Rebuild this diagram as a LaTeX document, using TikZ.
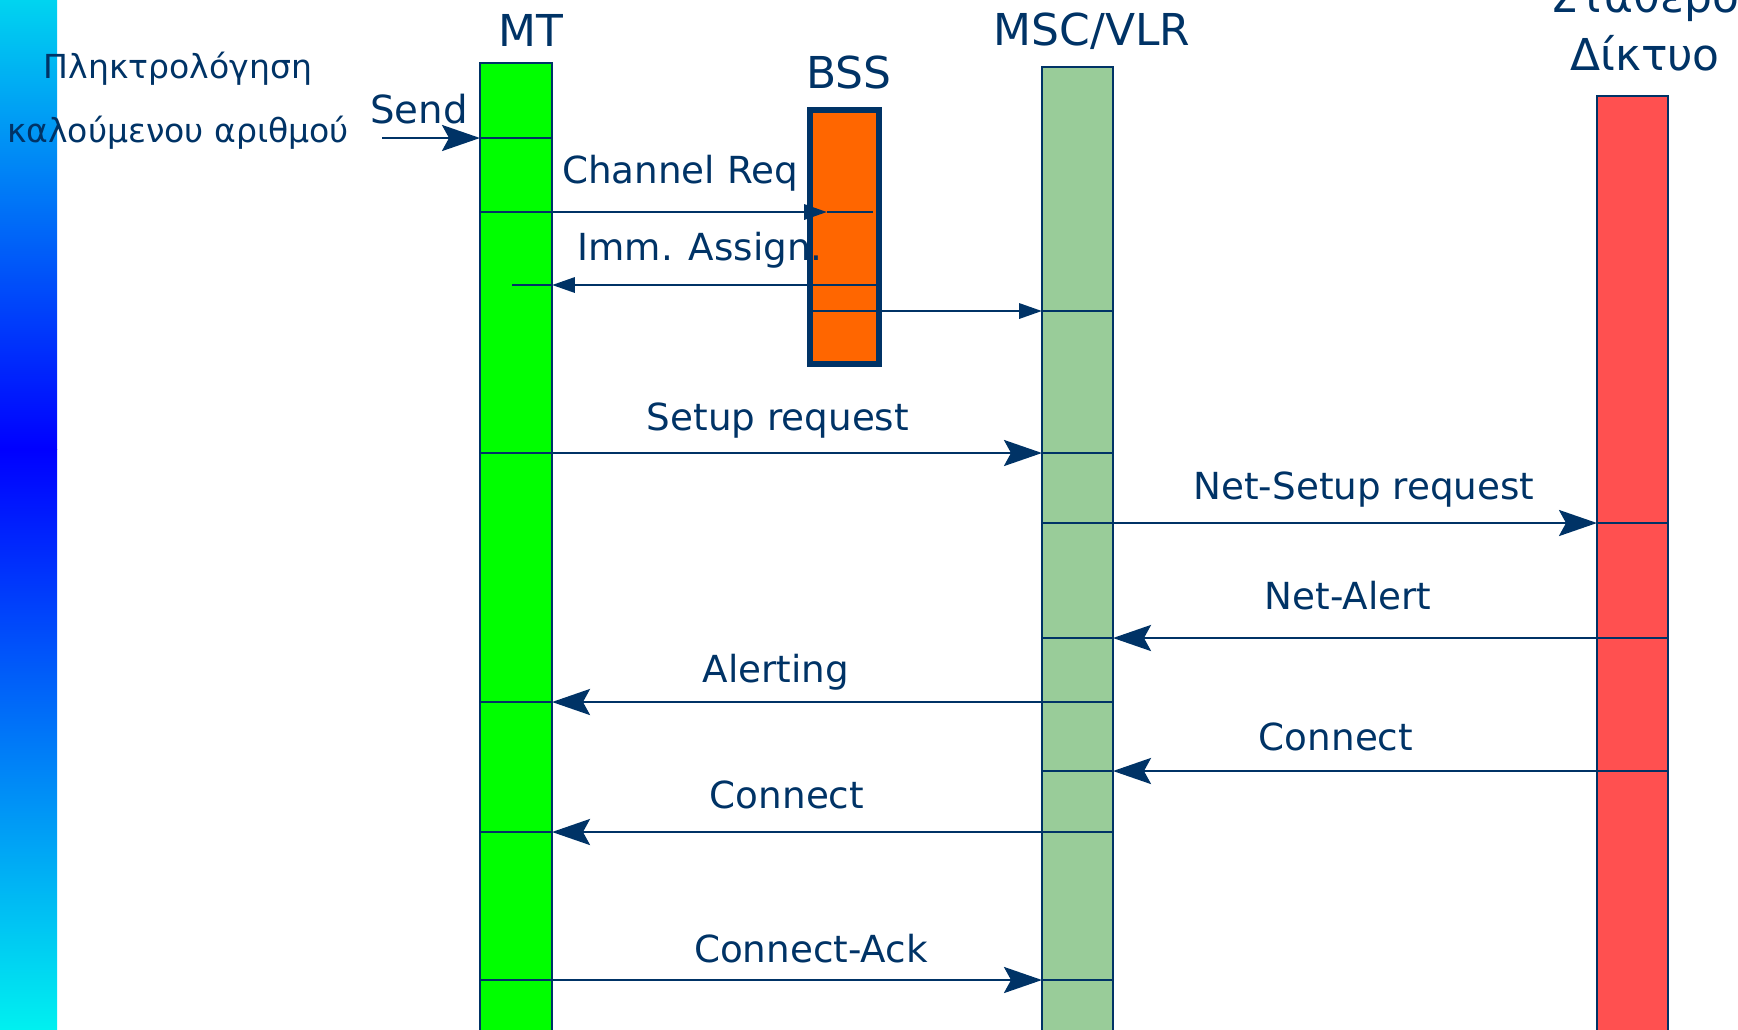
\documentclass[tikz,border=0pt]{standalone}
\usepackage{fontspec}
\setmainfont{DejaVu Sans}
\usetikzlibrary{arrows.meta,calc}
\definecolor{navy}{RGB}{0,51,102}
\definecolor{mtgreen}{RGB}{0,255,0}
\definecolor{mscgreen}{RGB}{153,204,153}
\definecolor{bssorange}{RGB}{255,102,0}
\definecolor{netred}{RGB}{255,80,80}
\definecolor{gtop}{RGB}{0,212,240}
\definecolor{gmid}{RGB}{0,0,255}
\definecolor{gbot}{RGB}{0,240,240}
\tikzset{
  bar/.style={draw=navy, line width=0.6pt, inner sep=0pt, outer sep=0pt, anchor=north},
  msg/.style={draw=navy, line width=0.8pt},
  bighead/.style={-{Stealth[length=10.8pt,width=7.4pt,inset=2pt]}},
  smallhead/.style={-{Triangle[length=6.5pt,width=4.3pt]}},
  head/.style={text=navy, anchor=base, inner sep=0pt, font=\fontsize{12.5}{15}\selectfont},
  lbl/.style={text=navy, anchor=base, inner sep=0pt, font=\fontsize{10.6}{13}\selectfont},
  grk/.style={text=navy, anchor=base, inner sep=0pt, font=\fontsize{9.4}{11}\selectfont}
}
\begin{document}
\begin{tikzpicture}[x=0.01cm,y=-0.01cm]
\useasboundingbox (0,0) rectangle (1738,1029);
\clip (0,0) rectangle (1738,1029);
% left gradient band
\shade[top color=gtop, bottom color=gmid] (0,0) rectangle (57,449);
\shade[top color=gmid, bottom color=gbot] (0,449) rectangle (57,1029);
% lifelines
\node[bar, fill=mtgreen, minimum width=0.72cm, minimum height=9.9cm] (mt) at (516,63) {};
\node[bar, fill=mscgreen, minimum width=0.71cm, minimum height=9.9cm] (msc) at (1077.5,67) {};
\node[bar, fill=netred, minimum width=0.71cm, minimum height=9.9cm] (net) at (1632.5,96) {};
\node[bar, fill=bssorange, line width=1.7pt, minimum width=0.69cm, minimum height=2.54cm] (bss) at (844.5,110) {};
% rows
\coordinate (r0) at (0,138);
\coordinate (r1) at (0,212);
\coordinate (r2) at (0,285);
\coordinate (r3) at (0,311);
\coordinate (r4) at (0,453);
\coordinate (r5) at (0,523);
\coordinate (r6) at (0,638);
\coordinate (r7) at (0,702);
\coordinate (r8) at (0,771);
\coordinate (r9) at (0,832);
\coordinate (r10) at (0,980);
\coordinate (sendstart) at (382,138);
% Send
\draw[msg,bighead] (sendstart) -- (mt.west |- r0);
\draw[msg] (mt.west |- r0) -- (mt.east |- r0);
% Channel Req
\draw[msg,smallhead] (mt.west |- r1) -- ($(bss.west |- r1)+(17,0)$);
\draw[msg] ($(bss.west |- r1)+(17,0)$) -- ($(bss.east |- r1)+(-6,0)$);
% Imm. Assign.
\draw[msg,smallhead] ($(bss.east |- r2)+(-2,0)$) -- (mt.east |- r2);
\draw[msg] (mt.east |- r2) -- ($(mt.west |- r2)+(32,0)$);
% BSS -> MSC
\draw[msg,smallhead] ($(bss.west |- r3)+(2,0)$) -- (msc.west |- r3);
\draw[msg] (msc.west |- r3) -- (msc.east |- r3);
% Setup request
\draw[msg,bighead] (mt.west |- r4) -- (msc.west |- r4);
\draw[msg] (msc.west |- r4) -- (msc.east |- r4);
% Net-Setup request
\draw[msg,bighead] (msc.west |- r5) -- (net.west |- r5);
\draw[msg] (net.west |- r5) -- (net.east |- r5);
% Net-Alert
\draw[msg,bighead] (net.east |- r6) -- (msc.east |- r6);
\draw[msg] (msc.east |- r6) -- (msc.west |- r6);
% Alerting
\draw[msg,bighead] (msc.east |- r7) -- (mt.east |- r7);
\draw[msg] (mt.east |- r7) -- (mt.west |- r7);
% Connect (net -> msc)
\draw[msg,bighead] (net.east |- r8) -- (msc.east |- r8);
\draw[msg] (msc.east |- r8) -- (msc.west |- r8);
% Connect (msc -> mt)
\draw[msg,bighead] (msc.east |- r9) -- (mt.east |- r9);
\draw[msg] (mt.east |- r9) -- (mt.west |- r9);
% Connect-Ack
\draw[msg,bighead] (mt.west |- r10) -- (msc.west |- r10);
\draw[msg] (msc.west |- r10) -- (msc.east |- r10);
% headers
\node[head] (tmt) at (531,46) {MT};
\node[head] (tbss) at (849,88) {BSS};
\node[head] (tmsc) at (1092,45) {MSC/VLR};
\node[head] (tnet1) at (1645,12) {Σταθερό};
\node[head] (tnet2) at (1645,70) {Δίκτυο};
% left texts
\node[grk] (tg1) at (178,78) {Πληκτρολόγηση};
\node[grk] (tg2) at (178,142) {καλούμενου αριθμού};
\node[lbl, font=\fontsize{11}{13}\selectfont] (tsend) at (419,123) {Send};
% message labels
\node[lbl] (l1) at (680,183) {Channel Req};
\node[lbl] (l2) at (700,260) {Imm. Assign.};
\node[lbl] (l4) at (778,430) {Setup request};
\node[lbl] (l5) at (1364,499) {Net-Setup request};
\node[lbl] (l6) at (1348,609) {Net-Alert};
\node[lbl] (l7) at (776,682) {Alerting};
\node[lbl] (l8) at (1336,750) {Connect};
\node[lbl] (l9) at (787,808) {Connect};
\node[lbl] (l10) at (811,962) {Connect-Ack};
\end{tikzpicture}
\end{document}
